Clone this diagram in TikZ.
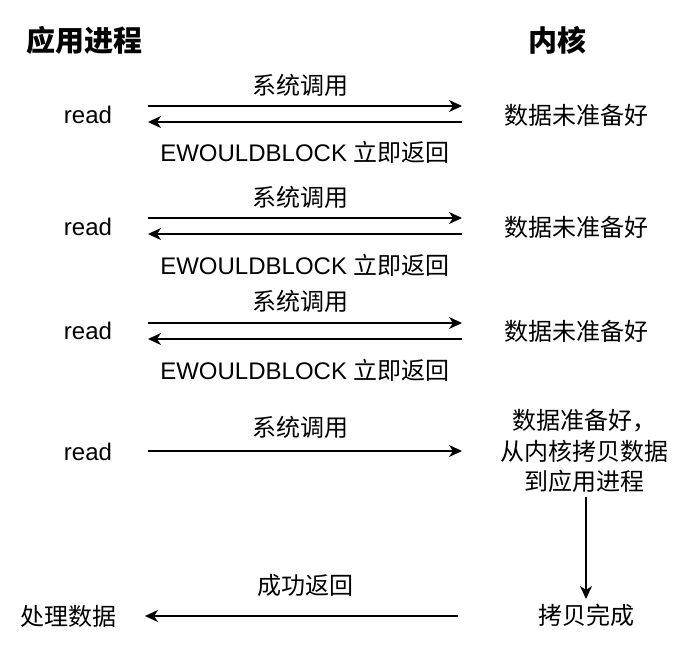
\documentclass[tikz,border=0pt]{standalone}
\usepackage{fontspec}
\setmainfont{Liberation Sans}
\newfontfamily\cjk{Noto Sans CJK SC}
\usetikzlibrary{arrows.meta}
\tikzset{
  lbl/.style={font=\fontsize{24}{30}\selectfont, inner sep=0pt, align=center},
  zh/.style={lbl, font=\fontsize{24}{30.5}\selectfont\cjk},
  title/.style={inner sep=0pt, font=\fontsize{29}{34}\selectfont\cjk\bfseries},
  call/.style={-{Stealth[length=13pt,width=12pt,inset=4pt]}, line width=1.3pt},
}
\begin{document}
\begin{tikzpicture}[x=1pt,y=-1pt]
      \useasboundingbox (0,0) rectangle (688,645);
      \draw
        (84,40) node[title] (app){应用进程}
        (557,40) node[title] (kern){内核}
        (88,115) node[lbl] (read1){read}
        (88,227) node[lbl] (read2){read}
        (88,331) node[lbl] (read3){read}
        (88,452) node[lbl] (read4){read}
        (68,616) node[zh] (done){处理数据}
        (576,115) node[zh] (wait1){数据未准备好}
        (576,227) node[zh] (wait2){数据未准备好}
        (576,331) node[zh] (wait3){数据未准备好}
        (584,451) node[zh] (ready){数据准备好，\\从内核拷贝数据\\到应用进程}
        (586,615) node[zh] (copied){拷贝完成};
      % call / return labels
      \draw
        (300,85) node[zh] (sys1){系统调用}
        (300,197) node[zh] (sys2){系统调用}
        (300,301) node[zh] (sys3){系统调用}
        (300,427) node[zh] (sys4){系统调用}
        (305,152) node[lbl] (ret1){EWOULDBLOCK {\cjk 立即返回}}
        (305,265) node[lbl] (ret2){EWOULDBLOCK {\cjk 立即返回}}
        (305,370) node[lbl] (ret3){EWOULDBLOCK {\cjk 立即返回}}
        (305,585) node[zh] (ok){成功返回};
      % arrow ends
      \coordinate (a1) at (148,106);  \coordinate (b1) at (462,106);
      \coordinate (c1) at (462,122);  \coordinate (d1) at (148,122);
      \coordinate (a2) at (148,218);  \coordinate (b2) at (462,218);
      \coordinate (c2) at (462,234);  \coordinate (d2) at (148,234);
      \coordinate (a3) at (148,323);  \coordinate (b3) at (462,323);
      \coordinate (c3) at (462,339);  \coordinate (d3) at (148,339);
      \coordinate (a4) at (148,451);  \coordinate (b4) at (462,451);
      \coordinate (e) at (458,616);   \coordinate (f) at (145,616);
      \coordinate (g) at (586,497);   \coordinate (h) at (586,599);
      \begin{scope}[call]
        \draw (a1) to (b1);
        \draw (c1) to (d1);
        \draw (a2) to (b2);
        \draw (c2) to (d2);
        \draw (a3) to (b3);
        \draw (c3) to (d3);
        \draw (a4) to (b4);
        \draw (g) to (h);
        \draw (e) to (f);
      \end{scope}
    \end{tikzpicture}
\end{document}
